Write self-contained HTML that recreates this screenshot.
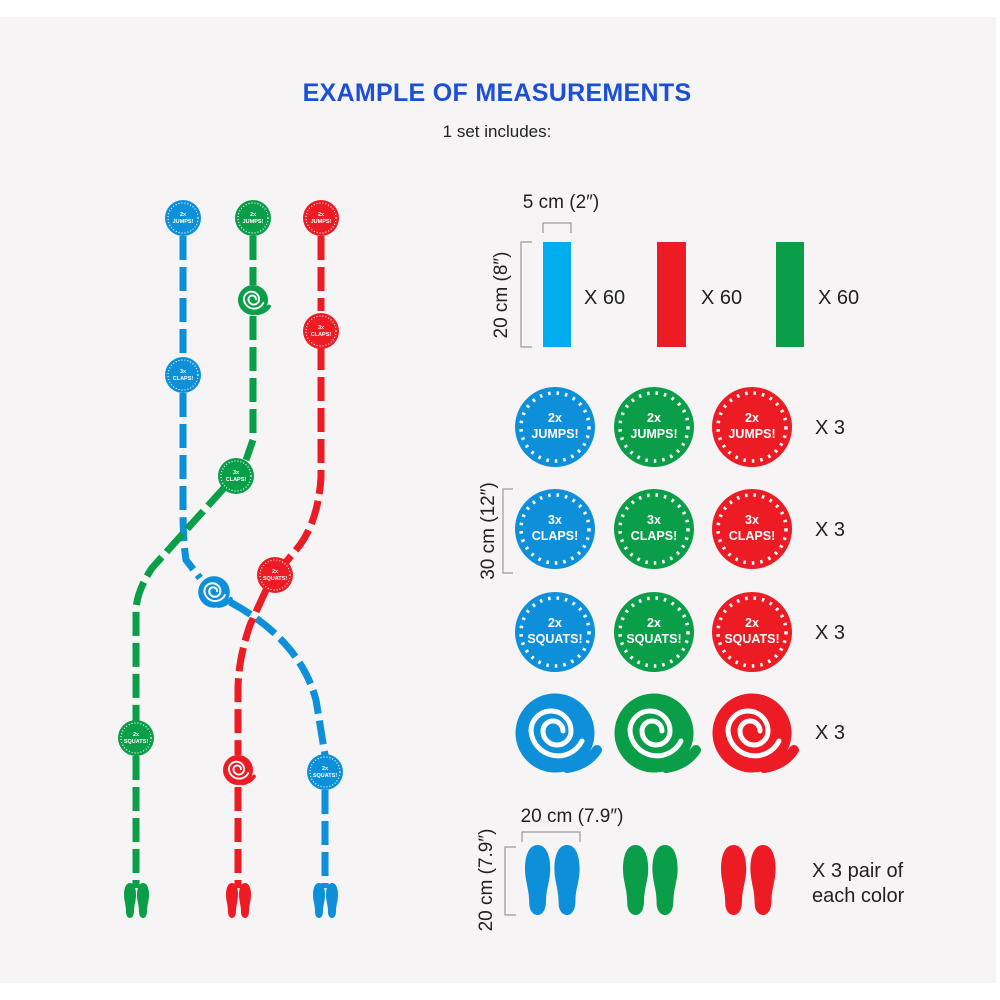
<!DOCTYPE html>
<html><head><meta charset="utf-8"><style>
html,body{margin:0;padding:0;background:#fff;}
svg{display:block;}
text{font-family:"Liberation Sans",sans-serif;}
</style></head><body>
<svg width="1000" height="1000" viewBox="0 0 1000 1000" xmlns="http://www.w3.org/2000/svg">
<defs>
  <g id="spiral">
    <circle cx="0" cy="0" r="39"/>
    <path d="M12,35 Q32,32 42,17" fill="none" stroke-width="10" stroke-linecap="round" stroke="inherit"/>
    <path d="M8,-2 A10 10 0 0 0 -12,-2 A14 14 0 0 0 16,-2 A20 20 0 0 0 -24,-2 A27 27 0 0 0 27,8" fill="none" stroke="#fff" stroke-width="5" stroke-linecap="round"/>
  </g>
  <path id="sole" d="M6,0 C10,0 12,5 12,12 C12,18 10,22 10,28 C10,33 8,35 6,35 C4,35 2,33 2,29 C2,22 0,18 0,12 C0,5 2,0 6,0Z"/>
</defs>
<rect x="0" y="17" width="996" height="966" fill="#f6f4f5"/>

<text x="497" y="101" text-anchor="middle" font-size="25" font-weight="bold" fill="#1c4fd8" letter-spacing="0.3">EXAMPLE OF MEASUREMENTS</text>
<text x="497" y="137" text-anchor="middle" font-size="17" fill="#222">1 set includes:</text>

<g fill="none" stroke-width="7" stroke-dasharray="24 7">
  <path stroke="#0d8fd9" d="M183,236 L183,358 M183,393 L183,510 Q183,540 186,560 L200,578"/>
  <path stroke="#0d8fd9" d="M230,602 Q300,640 316,700 L325,755"/>
  <path stroke="#0d8fd9" d="M325,790 L325,888"/>
  <path stroke="#0a9e48" d="M253,236 L253,285 M253,316 L253,440 L246,460"/>
  <path stroke="#0a9e48" d="M224,488 L152,568 Q136,592 136,612 L136,721"/>
  <path stroke="#0a9e48" d="M136,756 L136,888"/>
  <path stroke="#ed1c24" d="M321,236 L321,311 M321,346 L321,478 Q318,520 300,545 L286,562"/>
  <path stroke="#ed1c24" d="M266,590 L250,625 Q238,660 238,690 L238,755"/>
  <path stroke="#ed1c24" d="M238,787 L238,888"/>
</g>

<g font-size="5.5" font-weight="bold" fill="#fff" text-anchor="middle">
  <g><circle cx="183" cy="218" r="18" fill="#0d8fd9"/><circle cx="183" cy="218" r="15" fill="none" stroke="#fff" stroke-width="1.2" stroke-dasharray="1 2"/><text x="183" y="216">2x</text><text x="183" y="223">JUMPS!</text></g>
  <g><circle cx="253" cy="218" r="18" fill="#0a9e48"/><circle cx="253" cy="218" r="15" fill="none" stroke="#fff" stroke-width="1.2" stroke-dasharray="1 2"/><text x="253" y="216">2x</text><text x="253" y="223">JUMPS!</text></g>
  <g><circle cx="321" cy="218" r="18" fill="#ed1c24"/><circle cx="321" cy="218" r="15" fill="none" stroke="#fff" stroke-width="1.2" stroke-dasharray="1 2"/><text x="321" y="216">2x</text><text x="321" y="223">JUMPS!</text></g>
  <g><circle cx="183" cy="375" r="18" fill="#0d8fd9"/><circle cx="183" cy="375" r="15" fill="none" stroke="#fff" stroke-width="1.2" stroke-dasharray="1 2"/><text x="183" y="373">3x</text><text x="183" y="380">CLAPS!</text></g>
  <g><circle cx="321" cy="331" r="18" fill="#ed1c24"/><circle cx="321" cy="331" r="15" fill="none" stroke="#fff" stroke-width="1.2" stroke-dasharray="1 2"/><text x="321" y="329">3x</text><text x="321" y="336">CLAPS!</text></g>
  <g><circle cx="236" cy="476" r="18" fill="#0a9e48"/><circle cx="236" cy="476" r="15" fill="none" stroke="#fff" stroke-width="1.2" stroke-dasharray="1 2"/><text x="236" y="474">3x</text><text x="236" y="481">CLAPS!</text></g>
  <g><circle cx="275" cy="575" r="18" fill="#ed1c24"/><circle cx="275" cy="575" r="15" fill="none" stroke="#fff" stroke-width="1.2" stroke-dasharray="1 2"/><text x="275" y="573">2x</text><text x="275" y="580">SQUATS!</text></g>
  <g><circle cx="136" cy="738" r="18" fill="#0a9e48"/><circle cx="136" cy="738" r="15" fill="none" stroke="#fff" stroke-width="1.2" stroke-dasharray="1 2"/><text x="136" y="736">2x</text><text x="136" y="743">SQUATS!</text></g>
  <g><circle cx="325" cy="772" r="18" fill="#0d8fd9"/><circle cx="325" cy="772" r="15" fill="none" stroke="#fff" stroke-width="1.2" stroke-dasharray="1 2"/><text x="325" y="770">2x</text><text x="325" y="777">SQUATS!</text></g>
</g>

<use href="#spiral" transform="translate(253,300) scale(0.38)" fill="#0a9e48" stroke="#0a9e48"/>
<use href="#spiral" transform="translate(214,592) scale(0.40)" fill="#0d8fd9" stroke="#0d8fd9"/>
<use href="#spiral" transform="translate(238,770) scale(0.38)" fill="#ed1c24" stroke="#ed1c24"/>

<g transform="translate(124,883)" fill="#0a9e48"><use href="#sole"/><use href="#sole" x="13"/></g>
<g transform="translate(226,883)" fill="#ed1c24"><use href="#sole"/><use href="#sole" x="13"/></g>
<g transform="translate(313,883)" fill="#0d8fd9"><use href="#sole"/><use href="#sole" x="13"/></g>

<g fill="none" stroke="#999" stroke-width="1.2">
  <path d="M543,233 V223 H571 V233"/>
  <path d="M532,242 H521 V347 H532"/>
  <path d="M513,489 H503 V573 H513"/>
  <path d="M522,842 V832 H580 V842"/>
  <path d="M516,847 H505 V915 H516"/>
</g>
<text x="561" y="208" text-anchor="middle" font-size="19" fill="#222">5 cm (2″)</text>
<text transform="translate(507,295) rotate(-90)" text-anchor="middle" font-size="19" fill="#222">20 cm (8″)</text>
<rect x="543" y="242" width="28" height="105" fill="#00aeef"/>
<rect x="657" y="242" width="29" height="105" fill="#ed1c24"/>
<rect x="776" y="242" width="28" height="105" fill="#0a9e48"/>
<g font-size="20" fill="#222">
  <text x="584" y="304">X 60</text><text x="701" y="304">X 60</text><text x="818" y="304">X 60</text>
  <text x="815" y="434">X 3</text><text x="815" y="536">X 3</text><text x="815" y="639">X 3</text><text x="815" y="739">X 3</text>
  <text x="812" y="877">X 3 pair of</text><text x="812" y="902">each color</text>
</g>
<text transform="translate(494,531) rotate(-90)" text-anchor="middle" font-size="19" fill="#222">30 cm (12″)</text>
<text x="572" y="822" text-anchor="middle" font-size="19" fill="#222">20 cm (7.9″)</text>
<text transform="translate(492,880) rotate(-90)" text-anchor="middle" font-size="19" fill="#222">20 cm (7.9″)</text>

<g font-size="12.5" font-weight="bold" fill="#fff" text-anchor="middle">
  <g fill="#0d8fd9"><circle cx="555" cy="427" r="40"/><circle cx="555" cy="529" r="40"/><circle cx="555" cy="632" r="40"/></g>
  <g fill="#0a9e48"><circle cx="654" cy="427" r="40"/><circle cx="654" cy="529" r="40"/><circle cx="654" cy="632" r="40"/></g>
  <g fill="#ed1c24"><circle cx="752" cy="427" r="40"/><circle cx="752" cy="529" r="40"/><circle cx="752" cy="632" r="40"/></g>
  <g fill="none" stroke="#fff" stroke-width="3.5" stroke-dasharray="2.5 6">
    <circle cx="555" cy="427" r="34"/><circle cx="555" cy="529" r="34"/><circle cx="555" cy="632" r="34"/>
    <circle cx="654" cy="427" r="34"/><circle cx="654" cy="529" r="34"/><circle cx="654" cy="632" r="34"/>
    <circle cx="752" cy="427" r="34"/><circle cx="752" cy="529" r="34"/><circle cx="752" cy="632" r="34"/>
  </g>
  <text x="555" y="422">2x</text><text x="555" y="438">JUMPS!</text>
  <text x="654" y="422">2x</text><text x="654" y="438">JUMPS!</text>
  <text x="752" y="422">2x</text><text x="752" y="438">JUMPS!</text>
  <text x="555" y="524">3x</text><text x="555" y="540">CLAPS!</text>
  <text x="654" y="524">3x</text><text x="654" y="540">CLAPS!</text>
  <text x="752" y="524">3x</text><text x="752" y="540">CLAPS!</text>
  <text x="555" y="627">2x</text><text x="555" y="643">SQUATS!</text>
  <text x="654" y="627">2x</text><text x="654" y="643">SQUATS!</text>
  <text x="752" y="627">2x</text><text x="752" y="643">SQUATS!</text>
</g>

<use href="#spiral" transform="translate(555,733)" fill="#0d8fd9" stroke="#0d8fd9"/>
<use href="#spiral" transform="translate(654,733)" fill="#0a9e48" stroke="#0a9e48"/>
<use href="#spiral" transform="translate(752,733)" fill="#ed1c24" stroke="#ed1c24"/>

<g transform="translate(525,845) scale(2.1,2)" fill="#0d8fd9"><use href="#sole"/><use href="#sole" x="14"/></g>
<g transform="translate(623,845) scale(2.1,2)" fill="#0a9e48"><use href="#sole"/><use href="#sole" x="14"/></g>
<g transform="translate(721,845) scale(2.1,2)" fill="#ed1c24"><use href="#sole"/><use href="#sole" x="14"/></g>
</svg>
</body></html>
